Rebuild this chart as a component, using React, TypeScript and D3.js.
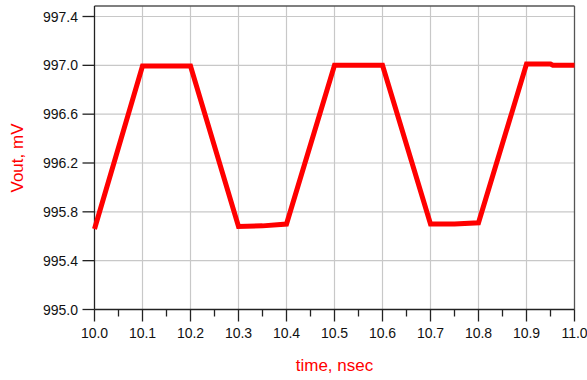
import React from "react";
import * as d3 from "d3";

const timeNs = [10.0, 10.1, 10.2, 10.3, 10.35, 10.4, 10.5, 10.6, 10.7, 10.75, 10.8, 10.9, 10.95, 10.955, 11.0];
const voutMv = [995.66, 996.995, 996.995, 995.68, 995.685, 995.70, 997.0, 997.0, 995.70, 995.70, 995.71, 997.01, 997.01, 997.0, 997.0];
const xTicks = [10.0, 10.1, 10.2, 10.3, 10.4, 10.5, 10.6, 10.7, 10.8, 10.9, 11.0];
const xMinorTicks = [10.05, 10.15, 10.25, 10.35, 10.45, 10.55, 10.65, 10.75, 10.85, 10.95];
const yTicks = [995.0, 995.4, 995.8, 996.2, 996.6, 997.0, 997.4];
const xLabel = "time, nsec";
const yLabel = "Vout, mV";

const W = 587;
const H = 380;
const L = 94.5;
const R = 574.5;
const T = 6;
const B = 309.5;

export default function App() {
  const x = d3.scaleLinear().domain([10.0, 11.0]).range([L, R]);
  const y = d3.scaleLinear().domain([995.0, 997.4]).range([B, 16.5]);
  const pts = timeNs.map((t, i) => [t, voutMv[i]] as [number, number]);
  const line = d3.line<[number, number]>().x((d) => x(d[0])).y((d) => y(d[1]));
  const font = "'Liberation Sans', Arial, sans-serif";
  return (
    <svg width={W} height={H} style={{ position: "absolute", left: 0, top: 0, background: "#fff" }}>
      {/* grid */}
      {xTicks.slice(1, -1).map((t) => (
        <line key={"gx" + t} x1={x(t)} x2={x(t)} y1={T} y2={B} stroke="#c8c8c8" strokeWidth={1.2} />
      ))}
      {yTicks.slice(1).map((t) => (
        <line key={"gy" + t} x1={L} x2={R} y1={y(t)} y2={y(t)} stroke="#c8c8c8" strokeWidth={1.2} />
      ))}
      {/* border */}
      <line x1={L} x2={R} y1={T} y2={T} stroke="#555" strokeWidth={1.3} />
      <line x1={R} x2={R} y1={T} y2={B} stroke="#555" strokeWidth={1.3} />
      <line x1={L} x2={L} y1={T} y2={B} stroke="#222" strokeWidth={1.3} />
      <line x1={L} x2={R} y1={B} y2={B} stroke="#222" strokeWidth={1.3} />
      {/* data */}
      <path d={line(pts) || ""} fill="none" stroke="#ff0000" strokeWidth={5} strokeLinejoin="miter" />
      {/* y ticks */}
      {yTicks.map((t) => (
        <g key={"yt" + t}>
          <line x1={L - 12} x2={L} y1={y(t)} y2={y(t)} stroke="#222" strokeWidth={1.3} />
          <text x={78} y={y(t)} dy="0.36em" textAnchor="end" fontFamily={font} fontSize={14} fill="#111">
            {t.toFixed(1)}
          </text>
        </g>
      ))}
      {/* x ticks */}
      {xTicks.map((t) => (
        <g key={"xt" + t}>
          <line x1={x(t)} x2={x(t)} y1={B} y2={B + 12} stroke="#222" strokeWidth={1.3} />
          <text x={x(t)} y={B + 28} textAnchor="middle" fontFamily={font} fontSize={14} fill="#111">
            {t.toFixed(1)}
          </text>
        </g>
      ))}
      {xMinorTicks.map((t) => (
        <line key={"xm" + t} x1={x(t)} x2={x(t)} y1={B} y2={B + 7} stroke="#222" strokeWidth={1.3} />
      ))}
      {/* axis titles */}
      <text x={(L + R) / 2} y={371} textAnchor="middle" fontFamily={font} fontSize={17} fill="#ff0000">
        {xLabel}
      </text>
      <text
        transform={`translate(23,158) rotate(-90)`}
        textAnchor="middle"
        fontFamily={font}
        fontSize={17}
        fill="#ff0000"
      >
        {yLabel}
      </text>
    </svg>
  );
}
